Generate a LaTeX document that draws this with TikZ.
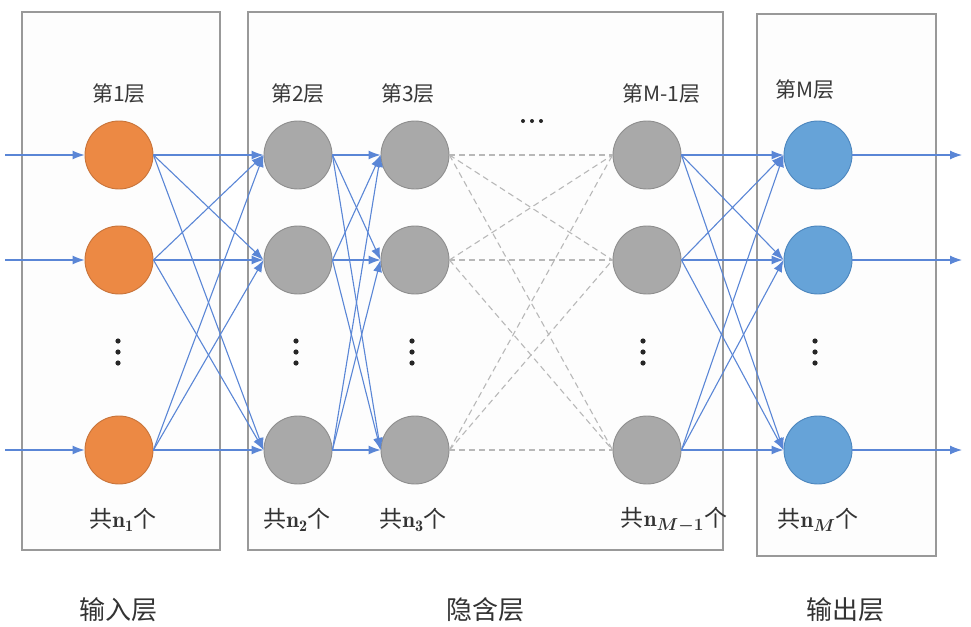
\documentclass[tikz,border=0pt]{standalone}
\usepackage{fontspec}
\usepackage{bm}
\newfontfamily\cjk{Noto Sans CJK SC}
\usetikzlibrary{arrows.meta}
\definecolor{linkblue}{HTML}{5A86D6}
\definecolor{inorange}{HTML}{EC8944}
\definecolor{inorangeb}{HTML}{C8743A}
\definecolor{hidgray}{HTML}{A9A9A9}
\definecolor{hidgrayb}{HTML}{8E8E8E}
\definecolor{outblue}{HTML}{66A3D8}
\definecolor{outblueb}{HTML}{4C86BE}
\begin{document}
\begin{tikzpicture}[x=1pt,y=-1pt,
  layerbox/.style={draw=black!40, line width=1.4pt, fill=black!0.8},
  neuron/.style={circle, minimum size=68pt, inner sep=0pt, line width=0.9pt},
  inneuron/.style={neuron, fill=inorange, draw=inorangeb},
  hidneuron/.style={neuron, fill=hidgray, draw=hidgrayb},
  outneuron/.style={neuron, fill=outblue, draw=outblueb},
  conn/.style={draw=linkblue, line width=1.1pt, -{Latex[length=12pt,width=9pt]}},
  dashconn/.style={draw=black!28, line width=1.1pt, dash pattern=on 6pt off 4pt},
  lab/.style={font=\cjk\fontsize{21}{24}\selectfont, text=black!78},
  cnt/.style={font=\fontsize{23}{26}\selectfont, text=black!80},
  sect/.style={font=\cjk\fontsize{26}{30}\selectfont, text=black!80},
  dotfill/.style={fill=black!85}
]
\useasboundingbox (0,0) rectangle (971,626);
% boxes
\draw[layerbox] (22,12) rectangle (220,550);
\draw[layerbox] (248,12) rectangle (723,550);
\draw[layerbox] (757,14) rectangle (936,556);
% neurons
\foreach \r/\y in {a/155,b/260,c/450}{
  \node[inneuron] (l1\r) at (119,\y) {};
  \node[hidneuron] (l2\r) at (298,\y) {};
  \node[hidneuron] (l3\r) at (415,\y) {};
  \node[hidneuron] (l4\r) at (647,\y) {};
  \node[outneuron] (l5\r) at (818,\y) {};
  \coordinate (in\r) at (5,\y);
  \coordinate (out\r) at (962,\y);
}
% connections
\foreach \r in {a,b,c}{
  \draw[conn] (in\r) -- (l1\r.west);
  \draw[conn] (l5\r.east) -- (out\r);
  \foreach \s in {a,b,c}{
    \draw[conn] (l1\r.east) -- (l2\s.west);
    \draw[conn] (l2\r.east) -- (l3\s.west);
    \draw[dashconn] (l3\r.east) -- (l4\s.west);
    \draw[conn] (l4\r.east) -- (l5\s.west);
  }
}
% vertical dots
\foreach \x in {118,296,412,643,815}{
  \foreach \y in {341,352,363}{
    \fill[dotfill] (\x,\y) circle (2.6pt);
  }
}
% horizontal dots
\foreach \x in {523,532,541}{
  \fill[dotfill] (\x,121) circle (2pt);
}
% layer labels
\node[lab] (t1) at (119,94) {第1层};
\node[lab] (t2) at (298,94) {第2层};
\node[lab] (t3) at (408,94) {第3层};
\node[lab] (t4) at (661,94) {第M-1层};
\node[lab] (t5) at (805,90) {第M层};
% count labels
\node[cnt] (c1) at (123,520) {{\cjk 共}$\mathbf{n}_{\mathbf{1}}${\cjk 个}};
\node[cnt] (c2) at (297,520) {{\cjk 共}$\mathbf{n}_{\mathbf{2}}${\cjk 个}};
\node[cnt] (c3) at (413,520) {{\cjk 共}$\mathbf{n}_{\mathbf{3}}${\cjk 个}};
\node[cnt] (c4) at (674,520) {{\cjk 共}$\mathbf{n}_{\bm{M-1}}${\cjk 个}};
\node[cnt] (c5) at (818,520) {{\cjk 共}$\mathbf{n}_{\bm{M}}${\cjk 个}};
% section labels
\node[sect] (s1) at (118,610) {输入层};
\node[sect] (s2) at (485,610) {隐含层};
\node[sect] (s3) at (845,610) {输出层};
\end{tikzpicture}
\end{document}
